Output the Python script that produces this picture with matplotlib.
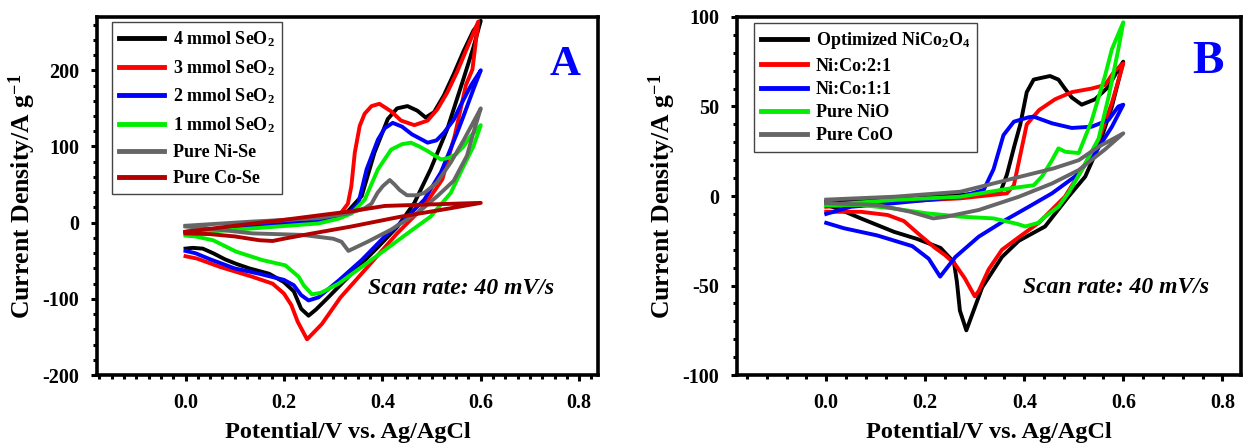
import matplotlib
matplotlib.use("Agg")
import matplotlib.pyplot as plt
from matplotlib.ticker import MultipleLocator

plt.rcParams['font.family'] = ['Liberation Serif', 'DejaVu Serif']
plt.rcParams['font.weight'] = 'bold'
plt.rcParams['axes.unicode_minus'] = False
plt.rcParams['mathtext.fontset'] = 'custom'
plt.rcParams['mathtext.rm'] = 'Liberation Serif:bold'
plt.rcParams['mathtext.it'] = 'Liberation Serif:bold:italic'
plt.rcParams['mathtext.bf'] = 'Liberation Serif:bold'

# ---- Panel A: Ni-Co-Se with different SeO2 amounts (loop: anodic then cathodic) ----
a_labels = ['4 mmol SeO$_2$', '3 mmol SeO$_2$', '2 mmol SeO$_2$', '1 mmol SeO$_2$',
            'Pure Ni-Se', 'Pure Co-Se']
a_colors = ['#000000', '#ff0000', '#0000ff', '#00ee00', '#666666', '#b00000']

a_4mmol_x = [0, 0.05, 0.1, 0.15, 0.2, 0.25, 0.3, 0.33, 0.358, 0.384, 0.411, 0.43, 0.451, 0.471,
             0.488, 0.505, 0.525, 0.545, 0.565, 0.585, 0.6,
             0.585, 0.565, 0.532, 0.498, 0.465, 0.431, 0.391, 0.337, 0.29, 0.265, 0.25, 0.235,
             0.22, 0.2, 0.17, 0.13, 0.103, 0.08, 0.056, 0.035, 0.015, 0]
a_4mmol_y = [-12, -10, -7, -4, -1, 2, 7, 15, 35, 92, 136, 150, 153, 147,
             138, 145, 167, 195, 225, 252, 265,
             230, 189, 123, 70, 26, -5, -32, -67, -98, -114, -122, -113,
             -90, -78, -67, -60, -54, -48, -40, -34, -33, -34]

a_3mmol_x = [0, 0.05, 0.1, 0.15, 0.2, 0.25, 0.29, 0.315, 0.33, 0.337, 0.344, 0.354, 0.364, 0.378,
             0.394, 0.418, 0.438, 0.465, 0.492, 0.512, 0.532, 0.552, 0.572, 0.595,
             0.583, 0.57, 0.547, 0.522, 0.484, 0.43, 0.37, 0.315, 0.277, 0.247, 0.228,
             0.215, 0.2, 0.177, 0.136, 0.07, 0.023, 0]
a_3mmol_y = [-14, -10, -7, -4, -1, 3, 8, 12, 25, 48, 92, 127, 143, 153,
             156, 146, 134, 128, 134, 149, 171, 198, 229, 264,
             201, 181, 114, 57, 21, -14, -58, -98, -133, -153, -130,
             -108, -93, -80, -71, -58, -47, -44]

a_2mmol_x = [0, 0.1, 0.2, 0.27, 0.31, 0.335, 0.351, 0.368, 0.391, 0.405, 0.421, 0.44, 0.46,
             0.492, 0.51, 0.525, 0.545, 0.559, 0.58, 0.6,
             0.585, 0.565, 0.552, 0.519, 0.485, 0.445, 0.405, 0.358, 0.311, 0.27, 0.25, 0.235,
             0.22, 0.2, 0.15, 0.1, 0.05, 0.02, 0]
a_2mmol_y = [-12, -7, -2, 2, 8, 15, 25, 70, 109, 124, 131, 126, 116,
             105, 108, 118, 135, 154, 180, 200,
             175, 140, 118, 66, 30, 4, -18, -49, -76, -98, -102, -95,
             -82, -75, -67, -60, -48, -40, -37]

a_1mmol_x = [0, 0.136, 0.27, 0.31, 0.337, 0.364, 0.391, 0.418, 0.44, 0.458, 0.475, 0.492,
             0.519, 0.535, 0.55, 0.565, 0.58, 0.6,
             0.585, 0.565, 0.539, 0.498, 0.451, 0.405, 0.358, 0.311, 0.275, 0.257, 0.24,
             0.23, 0.203, 0.156, 0.103, 0.056, 0.02, 0]
a_1mmol_y = [-14, -7.5, -1, 5, 12, 30, 70, 96, 103, 105, 100, 94,
             83, 85, 90, 100, 114, 128,
             100, 74, 39, 8, -14, -36, -58, -80, -92, -94, -82,
             -71, -56, -49, -38, -23, -18, -17]

a_nise_x = [0, 0.136, 0.27, 0.33, 0.364, 0.378, 0.39, 0.401, 0.415, 0.425, 0.435, 0.45, 0.47,
            0.485, 0.51, 0.539, 0.565, 0.585, 0.6,
            0.585, 0.572, 0.545, 0.512, 0.472, 0.418, 0.37, 0.331, 0.317, 0.3, 0.237, 0.136,
            0.036, 0]
a_nise_y = [-4, 1.5, 6, 12, 19, 25, 39, 48, 56, 50, 43, 36, 36,
            39, 52, 79, 108, 132, 150,
            118, 88, 55, 35, 13, -9, -25, -37, -25, -21, -16, -14,
            -7, -5]

a_cose_x = [0, 0.1, 0.203, 0.3, 0.337, 0.405, 0.5, 0.6,
            0.539, 0.438, 0.337, 0.25, 0.2, 0.177, 0.15, 0.1, 0.05, 0]
a_cose_y = [-12, -4, 4, 12, 15, 22, 24, 26,
            19, 8, -5, -15, -21, -24, -23, -18, -15, -14]

a_x = [a_4mmol_x, a_3mmol_x, a_2mmol_x, a_1mmol_x, a_nise_x, a_cose_x]
a_y = [a_4mmol_y, a_3mmol_y, a_2mmol_y, a_1mmol_y, a_nise_y, a_cose_y]

# ---- Panel B: NiCo2O4 and oxides ----
b_labels = ['Optimized NiCo$_2$O$_4$', 'Ni:Co:2:1', 'Ni:Co:1:1', 'Pure NiO', 'Pure CoO']
b_colors = ['#000000', '#ff0000', '#0000ff', '#00ee00', '#666666']

b_opt_x = [0, 0.137, 0.271, 0.352, 0.365, 0.38, 0.392, 0.405, 0.419, 0.435, 0.452, 0.469, 0.482,
           0.496, 0.516, 0.543, 0.57, 0.59, 0.6,
           0.577, 0.55, 0.523, 0.489, 0.442, 0.389, 0.355, 0.315, 0.295, 0.283, 0.27, 0.264,
           0.258, 0.231, 0.184, 0.137, 0.07, 0.023, 0]
b_opt_y = [-3, -1.3, 0.6, 2.4, 12, 28, 40, 58, 65, 66, 67, 65, 60,
           55, 51, 54, 61, 71, 75,
           50, 27.5, 10.8, -0.4, -17, -25, -34, -51, -66, -75, -64, -48,
           -37, -29, -24, -20, -12.5, -7, -5]

b_21_x = [0, 0.137, 0.271, 0.365, 0.379, 0.392, 0.405, 0.43, 0.462, 0.496, 0.536, 0.563, 0.583, 0.6,
          0.577, 0.55, 0.516, 0.482, 0.429, 0.389, 0.355, 0.328, 0.308, 0.3, 0.28, 0.26,
          0.24, 0.22, 0.19, 0.157, 0.124, 0.07, 0]
b_21_y = [-6, -3.2, -1.3, 1.5, 6, 23, 40, 48, 54, 58, 60, 62, 70, 74,
          52, 31, 14.5, -0.4, -15, -23, -30, -41, -53, -56, -46, -38,
          -33, -29, -22, -14, -10.6, -8.8, -8.8]

b_11_x = [0, 0.05, 0.137, 0.271, 0.318, 0.338, 0.358, 0.379, 0.409, 0.419, 0.456, 0.496, 0.536,
          0.57, 0.59, 0.6,
          0.577, 0.543, 0.503, 0.456, 0.409, 0.362, 0.308, 0.261, 0.23, 0.207, 0.174, 0.103,
          0.036, 0]
b_11_y = [-10, -6, -4, -0.4, 3.4, 15, 34, 41.5, 44, 44.3, 40.6, 38, 38.7,
          42.4, 50, 51,
          38.7, 24, 11, 1.5, -6, -13.4, -22.7, -34, -45, -35, -28, -22,
          -18, -15]

b_nio_x = [0, 0.137, 0.271, 0.372, 0.419, 0.436, 0.456, 0.469, 0.483, 0.51, 0.536, 0.563, 0.577, 0.6,
           0.59, 0.57, 0.55, 0.516, 0.49, 0.469, 0.44, 0.428, 0.402, 0.385, 0.338, 0.271, 0.204,
           0.137, 0.07, 0]
b_nio_y = [-5, -2.2, -0.4, 4.3, 6, 11, 20, 26.6, 24.7, 24, 42, 67, 82, 97,
           82, 55, 32, 14.5, 2, -6, -12, -15, -17, -15.5, -12.5, -11.5, -9.7,
           -7, -5, -5]

b_coo_x = [0, 0.137, 0.271, 0.352, 0.405, 0.459, 0.51, 0.55, 0.6,
           0.563, 0.51, 0.456, 0.389, 0.308, 0.241, 0.216, 0.17, 0.103, 0]
b_coo_y = [-2, -0.4, 2.4, 8, 11.7, 15.4, 20, 27.5, 35,
           26, 14.5, 7, -0.4, -7.8, -11.6, -12.5, -8.8, -5, -4]

b_x = [b_opt_x, b_21_x, b_11_x, b_nio_x, b_coo_x]
b_y = [b_opt_y, b_21_y, b_11_y, b_nio_y, b_coo_y]

x_ticks = [0.0, 0.2, 0.4, 0.6, 0.8]


def style_axes(ax, ylim, ymajor, yminor, xminor):
    ax.set_xlim(-0.18, 0.838)
    ax.set_ylim(*ylim)
    ax.set_xticks(x_ticks)
    ax.set_xticklabels(['%.1f' % t for t in x_ticks])
    ax.yaxis.set_major_locator(MultipleLocator(ymajor))
    ax.yaxis.set_minor_locator(MultipleLocator(yminor))
    ax.xaxis.set_minor_locator(MultipleLocator(xminor))
    for sp in ax.spines.values():
        sp.set_linewidth(2.6)
    ax.tick_params(which='both', direction='out', top=False, right=False,
                   labelsize=14.5, width=2.2, pad=9)
    ax.tick_params(which='major', length=4)
    ax.tick_params(which='minor', length=3)
    ax.set_xlabel('Potential/V vs. Ag/AgCl', fontsize=17.5, fontweight='bold', labelpad=6)
    ax.set_ylabel('Current Density/A g$^{-1}$', fontsize=18.5, fontweight='bold', labelpad=3)


fig = plt.figure(figsize=(12.43, 4.45), dpi=100)
ax_a = fig.add_axes([0.078, 0.157, 0.403, 0.805])
ax_b = fig.add_axes([0.593, 0.157, 0.4055, 0.805])

for xs, ys, c, lab in zip(a_x, a_y, a_colors, a_labels):
    ax_a.plot(xs, ys, color=c, lw=2.8, label=lab, solid_joinstyle='round')
for xs, ys, c, lab in zip(b_x, b_y, b_colors, b_labels):
    ax_b.plot(xs, ys, color=c, lw=2.8, label=lab, solid_joinstyle='round')

style_axes(ax_a, (-200, 270), 100, 20, 0.025)
style_axes(ax_b, (-100, 100), 50, 10, 0.04)

for ax, anchor, spacing in [(ax_a, (0.03, 0.986), 0.5), (ax_b, (0.034, 0.983), 0.35)]:
    leg = ax.legend(loc='upper left', bbox_to_anchor=anchor, borderaxespad=0,
                    fontsize=13, handlelength=2.5, handletextpad=0.5,
                    labelspacing=spacing, borderpad=0.4, fancybox=False, framealpha=1)
    leg.get_frame().set_edgecolor('#444444')
    leg.get_frame().set_linewidth(1.0)
    for line in leg.get_lines():
        line.set_linewidth(3.5)

ax_a.text(0.934, 0.866, 'A', transform=ax_a.transAxes, color='#0000ff',
          fontsize=31, fontweight='bold', ha='center', va='center')
ax_b.text(0.934, 0.874, 'B', transform=ax_b.transAxes, color='#0000ff',
          fontsize=34, fontweight='bold', ha='center', va='center')

for ax, pos in [(ax_a, (0.727, 0.243)), (ax_b, (0.752, 0.246))]:
    ax.text(pos[0], pos[1], 'Scan rate: 40 mV/s', transform=ax.transAxes,
            fontsize=17, fontweight='bold', fontstyle='italic', ha='center', va='center')

fig.savefig('out.png', dpi=100)
